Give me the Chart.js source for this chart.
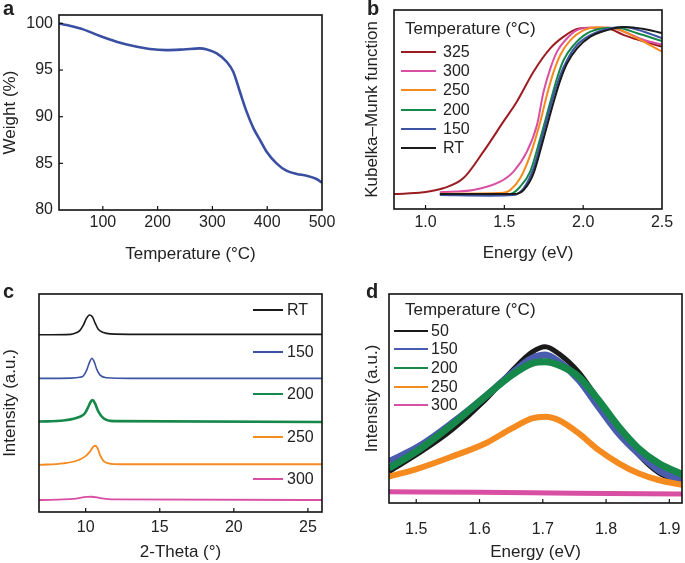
<!DOCTYPE html>
<html>
<head>
<meta charset="utf-8">
<script src="https://cdn.jsdelivr.net/npm/chart.js@4.4.0/dist/chart.umd.min.js"></script>
<style>
body { margin: 0; background: #fff; font-family: "Liberation Sans", Arial, sans-serif; color: #222; }
#page { position: relative; width: 685px; height: 563px; overflow: hidden; }
canvas { position: absolute; }
.tag { position: absolute; font-weight: bold; font-size: 20px; line-height: 1; }
.lt { position: absolute; line-height: 1; white-space: nowrap; transform: translateY(-50%); }
.ln { position: absolute; }
</style>
</head>
<body>
<div id="page">
  <canvas id="chA"></canvas>
  <canvas id="chB"></canvas>
  <canvas id="chC"></canvas>
  <canvas id="chD"></canvas>
  <div class="tag" style="left:3px;top:-2px">a</div>
  <div class="tag" style="left:367px;top:-2px">b</div>
  <div class="tag" style="left:3px;top:281px">c</div>
  <div class="tag" style="left:366px;top:281px">d</div>
</div>
<script>
// ---- panel a: TGA
var tgaTemp = [20, 34, 64, 95, 125, 156, 186, 216, 247, 277, 290, 308, 326, 338, 350, 362, 375, 387, 399, 417, 435, 454, 472, 490, 500]
var tgaWeight = [100, 99.82, 99.36, 98.64, 98.04, 97.57, 97.25, 97.14, 97.21, 97.32, 97.21, 96.79, 95.89, 94.82, 92.7, 90.6, 88.75, 87.5, 86.25, 85.0, 84.21, 83.86, 83.68, 83.32, 82.93]
var tgaTempTicks = [100, 200, 300, 400, 500]
var tgaWeightTicks = [80, 85, 90, 95, 100]

// ---- panel b: Kubelka-Munk
var kmLabels = ["325", "300", "250", "200", "150", "RT"]
var km325x = [0.8, 0.985, 1.112, 1.239, 1.367, 1.494, 1.579, 1.685, 1.791, 1.876, 1.961, 2.046, 2.152, 2.259, 2.386, 2.5]
var km325y = [0.075, 0.084, 0.104, 0.154, 0.288, 0.439, 0.539, 0.690, 0.807, 0.866, 0.905, 0.911, 0.908, 0.874, 0.841, 0.816]
var km300x = [1.091, 1.303, 1.473, 1.558, 1.643, 1.707, 1.749, 1.792, 1.834, 1.898, 1.961, 2.046, 2.174, 2.259, 2.386, 2.5]
var km300y = [0.084, 0.095, 0.137, 0.188, 0.288, 0.422, 0.590, 0.707, 0.791, 0.858, 0.899, 0.911, 0.911, 0.891, 0.849, 0.826]
var km250x = [1.091, 1.494, 1.537, 1.600, 1.664, 1.728, 1.770, 1.813, 1.855, 1.919, 2.004, 2.089, 2.216, 2.343, 2.5]
var km250y = [0.077, 0.082, 0.095, 0.154, 0.271, 0.439, 0.573, 0.690, 0.774, 0.849, 0.899, 0.913, 0.905, 0.858, 0.791]
var km200x = [1.091, 1.537, 1.600, 1.664, 1.728, 1.792, 1.834, 1.876, 1.940, 2.025, 2.131, 2.216, 2.343, 2.5]
var km200y = [0.074, 0.075, 0.112, 0.188, 0.355, 0.539, 0.657, 0.749, 0.824, 0.883, 0.908, 0.911, 0.883, 0.844]
var km150x = [1.091, 1.409, 1.558, 1.622, 1.685, 1.749, 1.813, 1.855, 1.898, 1.961, 2.046, 2.152, 2.259, 2.386, 2.5]
var km150y = [0.070, 0.067, 0.070, 0.104, 0.204, 0.389, 0.573, 0.673, 0.749, 0.824, 0.874, 0.905, 0.915, 0.891, 0.858]
var kmRTx = [1.091, 1.558, 1.622, 1.685, 1.749, 1.813, 1.855, 1.898, 1.961, 2.046, 2.152, 2.259, 2.386, 2.5]
var kmRTy = [0.075, 0.075, 0.095, 0.179, 0.355, 0.539, 0.648, 0.732, 0.807, 0.866, 0.899, 0.915, 0.905, 0.884]
var kmEnergyTicks = [1.0, 1.5, 2.0, 2.5]

// ---- panel c: XRD
var xrdLabels = ["RT", "150", "200", "250", "300"]
var xrdRTx = [6.85, 9.0, 9.4, 9.6, 9.85, 10.05, 10.25, 10.45, 10.65, 10.85, 11.2, 11.65, 13.5, 25.95]
var xrdRTy = [8.13, 8.15, 8.23, 8.32, 8.58, 8.88, 9.04, 8.96, 8.65, 8.38, 8.23, 8.17, 8.15, 8.15]
var xrd150x = [6.85, 9.0, 9.6, 9.84, 10.07, 10.25, 10.41, 10.57, 10.75, 10.97, 11.43, 13, 25.95]
var xrd150y = [6.13, 6.14, 6.18, 6.24, 6.51, 6.85, 7.05, 6.90, 6.54, 6.28, 6.16, 6.13, 6.13]
var xrd200x = [6.85, 8.5, 9.61, 9.95, 10.18, 10.34, 10.47, 10.63, 10.86, 11.2, 11.88, 25.95]
var xrd200y = [4.15, 4.2, 4.37, 4.53, 4.83, 5.06, 5.14, 4.98, 4.60, 4.30, 4.17, 4.13]
var xrd250x = [6.85, 8.49, 9.39, 9.95, 10.29, 10.52, 10.65, 10.81, 10.97, 11.2, 11.54, 12.33, 25.95]
var xrd250y = [2.16, 2.23, 2.35, 2.54, 2.77, 3.00, 3.04, 2.92, 2.61, 2.35, 2.23, 2.19, 2.19]
var xrd300x = [6.85, 9.16, 10.07, 10.41, 10.97, 11.88, 25.95]
var xrd300y = [0.55, 0.60, 0.69, 0.70, 0.64, 0.58, 0.55]
var xrdThetaTicks = [10, 15, 20, 25]

// ---- panel d: PL
var plLabels = ["50", "150", "200", "250", "300"]
var plEnergy = [1.457, 1.504, 1.556, 1.609, 1.651, 1.683, 1.704, 1.725, 1.757, 1.788, 1.820, 1.851, 1.883, 1.922]
var pl50 = [0.150, 0.238, 0.349, 0.493, 0.632, 0.722, 0.748, 0.715, 0.625, 0.493, 0.349, 0.232, 0.145, 0.094]
var pl150 = [0.198, 0.270, 0.381, 0.509, 0.620, 0.692, 0.708, 0.676, 0.589, 0.461, 0.333, 0.238, 0.158, 0.102]
var pl200 = [0.166, 0.254, 0.373, 0.509, 0.612, 0.668, 0.676, 0.660, 0.604, 0.493, 0.365, 0.262, 0.190, 0.134]
var pl250 = [0.126, 0.166, 0.222, 0.285, 0.357, 0.405, 0.413, 0.397, 0.333, 0.254, 0.190, 0.142, 0.110, 0.086]
var pl300x = [1.457, 1.6, 1.75, 1.922]
var pl300y = [0.054, 0.051, 0.047, 0.043]
var plEnergyTicks = [1.5, 1.6, 1.7, 1.8, 1.9]

var BLACK = '#1a1a1a', BLUE = '#3d54a5', GREEN = '#16884a', ORANGE = '#f58a1f', PINK = '#d94fa3', RED = '#9b1c22'

Chart.defaults.font.family = '"Liberation Sans", Arial, sans-serif'
Chart.defaults.color = '#222'

function pts(xs, ys){
    return xs.map(function(x, i){ return {x: x, y: ys[i]} })
}

// box around the plot area plus inward tick marks
var framePlugin = {
    id: 'frame',
    afterDatasetsDraw: function(chart, args, opts){
        var ctx = chart.ctx, a = chart.chartArea
        ctx.save()
        ctx.strokeStyle = '#111'
        ctx.lineWidth = 1.2
        ;['x', 'y'].forEach(function(id){
            if(id == 'y' && !opts.yTicks) return
            var s = chart.scales[id]
            s.ticks.forEach(function(t){
                var p = s.getPixelForValue(t.value)
                ctx.beginPath()
                if(id == 'x'){
                    if(p <= a.left + 2 || p >= a.right - 2) return
                    ctx.moveTo(p, a.bottom); ctx.lineTo(p, a.bottom - 4)
                } else {
                    if(p <= a.top + 2 || p >= a.bottom - 2) return
                    ctx.moveTo(a.left, p); ctx.lineTo(a.left + 4, p)
                }
                ctx.stroke()
            })
        })
        ctx.lineWidth = 1.6
        ctx.strokeRect(a.left, a.top, a.right - a.left, a.bottom - a.top)
        ctx.restore()
    }
}

function makePanel(id, box, area, p){
    var cv = document.getElementById(id)
    cv.width = box.w
    cv.height = box.h
    cv.style.left = box.x + 'px'
    cv.style.top = box.y + 'px'
    var yW = area.l - box.x
    var xH = box.y + box.h - area.b

    return new Chart(cv, {
        type: 'line',
        data: { datasets: p.datasets },
        options: {
            responsive: false,
            animation: false,
            events: [],
            layout: { padding: { left: 0, bottom: 0, top: area.t - box.y, right: box.x + box.w - area.r } },
            elements: {
                point: { radius: 0 },
                line: { cubicInterpolationMode: 'monotone', borderJoinStyle: 'round' }
            },
            plugins: {
                legend: { display: false },
                tooltip: { enabled: false },
                frame: { yTicks: !!p.yTicks }
            },
            scales: {
                x: {
                    type: 'linear', min: p.xMin, max: p.xMax,
                    grid: { display: false, drawTicks: false },
                    border: { display: false },
                    ticks: {
                        font: { size: 16 }, padding: p.xPad, autoSkip: false, maxRotation: 0,
                        callback: p.xFmt || function(v){ return v }
                    },
                    title: { display: true, text: p.xTitle, font: { size: 17 }, padding: { top: 0, bottom: p.xTitlePad } },
                    afterBuildTicks: function(s){ s.ticks = p.xTicks.map(function(v){ return {value: v} }) },
                    afterFit: function(s){ s.height = xH; s.paddingLeft = 0; s.paddingRight = 0 }
                },
                y: {
                    type: 'linear', min: p.yMin, max: p.yMax,
                    grid: { display: false, drawTicks: false },
                    border: { display: false },
                    ticks: { display: !!p.yTicks, font: { size: 16 }, padding: 6, autoSkip: false },
                    title: { display: true, text: p.yTitle, font: { size: 17 }, padding: { top: p.yTitlePad, bottom: 0 } },
                    afterBuildTicks: function(s){ if(p.yTicks) s.ticks = p.yTicks.map(function(v){ return {value: v} }) },
                    afterFit: function(s){ s.width = yW; s.paddingTop = 0; s.paddingBottom = 0 }
                }
            }
        },
        plugins: [framePlugin]
    })
}

function addLegend(chart, spec){
    var page = document.getElementById('page')
    if(spec.title){
        var t = document.createElement('div')
        t.className = 'lt'
        t.style.cssText = 'left:' + spec.titleX + 'px;top:' + spec.titleY + 'px;font-size:17px'
        t.textContent = spec.title
        page.appendChild(t)
    }
    chart.data.datasets.forEach(function(ds, i){
        var y = spec.y0 + spec.dy * i
        var ln = document.createElement('div')
        ln.className = 'ln'
        ln.style.cssText = 'left:' + spec.lineX + 'px;top:' + (y - spec.lw / 2) + 'px;width:' + spec.lineLen +
            'px;height:' + spec.lw + 'px;background:' + ds.borderColor
        page.appendChild(ln)
        var tx = document.createElement('div')
        tx.className = 'lt'
        tx.style.cssText = 'left:' + spec.textX + 'px;top:' + y + 'px;font-size:16px'
        tx.textContent = ds.label
        page.appendChild(tx)
    })
}

// panel a
makePanel('chA', {x: 0, y: 0, w: 340, h: 280}, {l: 59, t: 15, r: 322, b: 210}, {
    datasets: [{ label: 'TGA', data: pts(tgaTemp, tgaWeight), borderColor: '#3a4fa2', borderWidth: 2.6 }],
    xMin: 20, xMax: 500, xTicks: tgaTempTicks, xPad: 3, xTitle: 'Temperature (°C)', xTitlePad: 15,
    yMin: 80, yMax: 100.9, yTicks: tgaWeightTicks, yTitle: 'Weight (%)', yTitlePad: 0
})

// panel b
var kmColors = [RED, PINK, ORANGE, GREEN, BLUE, BLACK]
var kmSets = [[km325x, km325y], [km300x, km300y], [km250x, km250y], [km200x, km200y], [km150x, km150y], [kmRTx, kmRTy]]
var chartB = makePanel('chB', {x: 342, y: 0, w: 343, h: 280}, {l: 394, t: 10, r: 662, b: 209}, {
    datasets: kmSets.map(function(s, i){
        return { label: kmLabels[i], data: pts(s[0], s[1]), borderColor: kmColors[i], borderWidth: 2, order: 6 - i }
    }),
    xMin: 0.8, xMax: 2.5, xTicks: kmEnergyTicks, xPad: 4, xTitle: 'Energy (eV)', xTitlePad: 16,
    xFmt: function(v){ return v.toFixed(1) },
    yMin: 0, yMax: 1, yTitle: 'Kubelka–Munk function', yTitlePad: 20
})
addLegend(chartB, { title: 'Temperature (°C)', titleX: 405, titleY: 28, lineX: 401, lineLen: 35, textX: 443, y0: 51.7, dy: 19.3, lw: 2 })

// panel c
var xrdColors = [BLACK, BLUE, GREEN, ORANGE, PINK]
var xrdWidths = [1.6, 1.6, 2.6, 1.8, 1.8]
var xrdSets = [[xrdRTx, xrdRTy], [xrd150x, xrd150y], [xrd200x, xrd200y], [xrd250x, xrd250y], [xrd300x, xrd300y]]
var chartC = makePanel('chC', {x: 0, y: 283, w: 340, h: 280}, {l: 39, t: 294, r: 322, b: 512}, {
    datasets: xrdSets.map(function(s, i){
        return { label: xrdLabels[i], data: pts(s[0], s[1]), borderColor: xrdColors[i], borderWidth: xrdWidths[i] }
    }),
    xMin: 6.85, xMax: 25.95, xTicks: xrdThetaTicks, xPad: 6, xTitle: '2-Theta (°)', xTitlePad: 0,
    yMin: 0, yMax: 10, yTitle: 'Intensity (a.u.)', yTitlePad: 0
})
addLegend(chartC, { lineX: 253, lineLen: 30, textX: 287, y0: 310, dy: 42.2, lw: 2 })

// panel d
var plColors = [BLACK, '#4a5cad', GREEN, ORANGE, PINK]
var plWidths = [5, 7, 7, 6, 5]
var plSets = [[plEnergy, pl50], [plEnergy, pl150], [plEnergy, pl200], [plEnergy, pl250], [pl300x, pl300y]]
var chartD = makePanel('chD', {x: 342, y: 283, w: 343, h: 280}, {l: 389, t: 294, r: 682, b: 503}, {
    datasets: plSets.map(function(s, i){
        return { label: plLabels[i], data: pts(s[0], s[1]), borderColor: plColors[i], borderWidth: plWidths[i], order: 5 - i }
    }),
    xMin: 1.457, xMax: 1.92, xTicks: plEnergyTicks, xPad: 17, xTitle: 'Energy (eV)', xTitlePad: 0,
    xFmt: function(v){ return v.toFixed(1) },
    yMin: 0, yMax: 1, yTitle: 'Intensity (a.u.)', yTitlePad: 20
})
addLegend(chartD, { title: 'Temperature (°C)', titleX: 405, titleY: 308.5, lineX: 394, lineLen: 34, textX: 431, y0: 330.7, dy: 18.6, lw: 2 })
</script>
</body>
</html>
